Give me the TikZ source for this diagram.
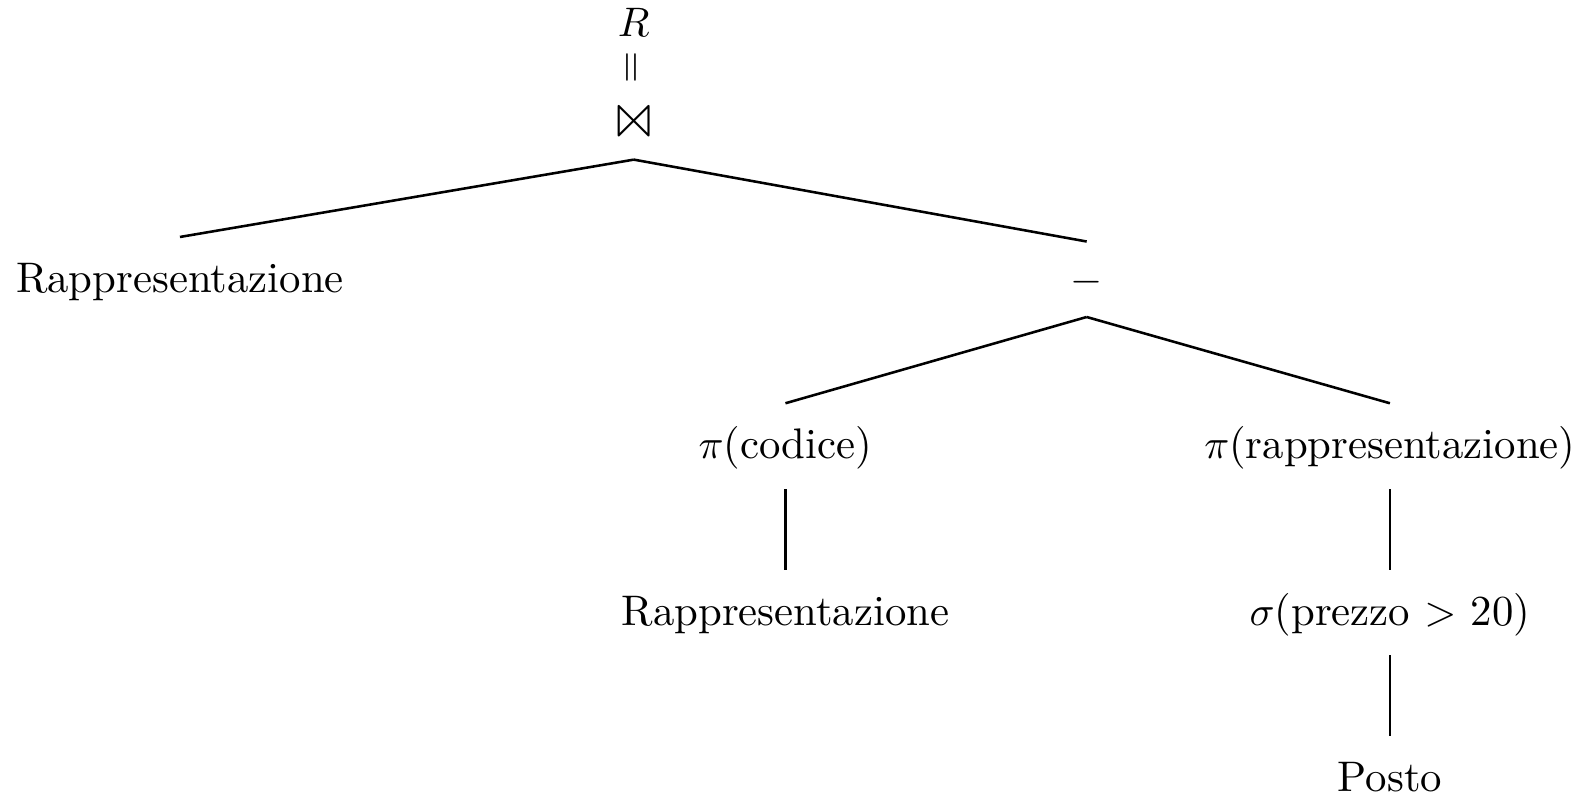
\documentclass[tikz,border=0pt]{standalone}
\usepackage{latexsym}
\usepackage{graphicx}
\begin{document}
\begin{tikzpicture}[x=0.2451pt,y=-0.2451pt,
  font=\fontsize{10.37pt}{12.5pt}\selectfont,
  tn/.style={inner sep=0pt,anchor=base,text height=13.3pt,text depth=7.1pt},
  edge/.style={line width=0.62pt}]
\useasboundingbox (0,0) rectangle (1568,790);
\node[inner sep=0pt,anchor=base] (rootR) at (627,36.5) {$R$};
\node[inner sep=0pt] (rootEq) at (627,67) {\rotatebox{90}{$=$}};
\node[tn,text depth=4.8pt] (rootJ) at (627,137.5) {\scalebox{1.3}{$\Join$}};
\node[tn] (rep1) at (178,289.5) {Rappresentazione};
\node[tn,text height=12.2pt,text depth=5.7pt] (minus) at (1075,289.5) {$-$};
\node[tn] (picod) at (777,454) {$\pi$(codice)};
\node[tn] (pirep) at (1375,454) {$\pi$(rappresentazione)};
\node[tn] (rep2) at (777,618.6) {Rappresentazione};
\node[tn] (sigma) at (1375,618.6) {$\sigma$(prezzo $>$ 20)};
\node[tn] (posto) at (1375,783) {Posto};
\draw[edge] (rootJ.south) -- (rep1.north);
\draw[edge] (rootJ.south) -- (minus.north);
\draw[edge] (minus.south) -- (picod.north);
\draw[edge] (minus.south) -- (pirep.north);
\draw[edge] (picod.south) -- (rep2.north);
\draw[edge] (pirep.south) -- (sigma.north);
\draw[edge] (sigma.south) -- (posto.north);
\end{tikzpicture}
\end{document}
